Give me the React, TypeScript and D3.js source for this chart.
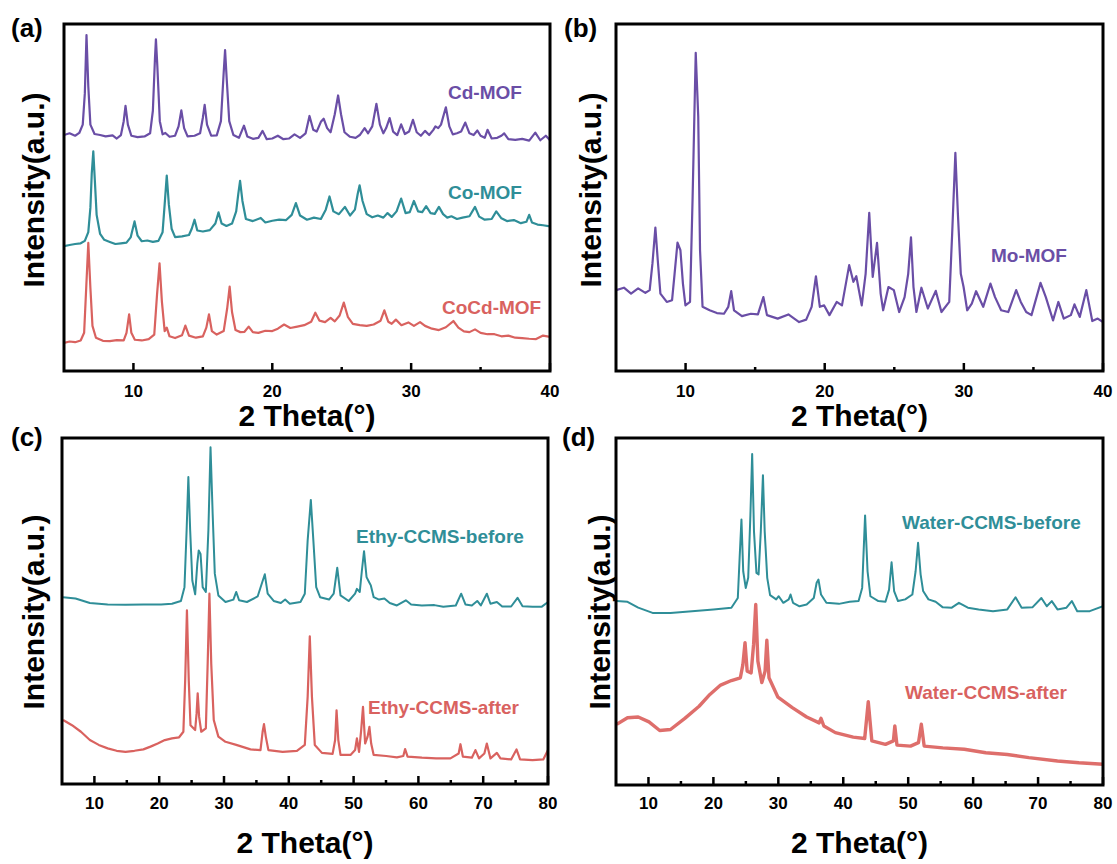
import React from "react";
import * as d3 from "d3";

type Pt = [number, number];

// ---------- tick values ----------
const ticksShort = [10, 20, 30, 40];
const minorShort = [15, 25, 35];
const ticksLong = [10, 20, 30, 40, 50, 60, 70, 80];
const minorLong = [15, 25, 35, 45, 55, 65, 75];

// ---------- panel (a) ----------
const cdMOF: Pt[] = [
  [5.0, 68.0], [5.4, 68.5], [5.8, 67.8], [6.1, 68.6], [6.35, 71], [6.5, 80], [6.62, 96.8], [6.75, 82], [6.9, 71], [7.2, 68.3],
  [7.6, 68.0], [8.0, 67.6], [8.5, 67.9], [8.8, 67.0], [9.1, 68], [9.3, 72], [9.43, 76.4], [9.6, 71], [9.85, 67.8], [10.3, 67.4],
  [10.8, 67.6], [11.2, 68.5], [11.4, 75], [11.55, 90], [11.62, 95.6], [11.72, 88], [11.9, 72], [12.1, 68.2], [12.3, 68.6], [12.6, 67.5],
  [13.0, 67.8], [13.25, 70.5], [13.45, 75.1], [13.65, 70], [13.9, 67.6], [14.4, 67.8], [14.8, 68.5], [15.0, 73], [15.13, 76.7], [15.3, 71],
  [15.6, 67.8], [16.0, 67.9], [16.3, 72], [16.5, 86], [16.6, 92.5], [16.72, 84], [16.9, 72], [17.2, 68], [17.6, 67.2], [17.96, 70.7],
  [18.2, 67.6], [18.6, 66.9], [19.0, 67.2], [19.3, 69.2], [19.6, 66.8], [20.0, 67.0], [20.4, 67.8], [20.8, 66.8], [21.2, 67], [21.6, 68.2],
  [22.0, 67.2], [22.4, 68.5], [22.68, 73.5], [22.95, 69.5], [23.2, 69], [23.5, 71.8], [23.7, 72.7], [23.95, 70], [24.2, 68.8], [24.5, 74],
  [24.74, 79.4], [24.95, 74], [25.2, 68.8], [25.6, 67.5], [26.0, 67.2], [26.3, 68], [26.65, 70], [26.9, 68.5], [27.2, 70.5], [27.5, 77],
  [27.75, 71], [28.0, 68.5], [28.2, 70], [28.45, 72.9], [28.7, 69], [29.0, 68], [29.28, 71.1], [29.55, 68.3], [29.85, 69], [30.13, 72.4],
  [30.4, 68.8], [30.7, 67.8], [31.0, 69.2], [31.3, 68], [31.6, 69.5], [31.75, 70.5], [31.95, 70], [32.15, 71], [32.5, 76], [32.75, 70.5],
  [33.0, 68.2], [33.3, 68.5], [33.6, 69], [33.9, 71.6], [34.2, 68.5], [34.5, 68], [34.77, 69.3], [35.0, 67.8], [35.3, 67.2], [35.5, 69.5],
  [35.8, 67], [36.2, 67.2], [36.5, 67.8], [36.7, 68.5], [37.0, 66.8], [37.5, 66.6], [38.0, 66.9], [38.5, 66.4], [38.94, 68.7], [39.3, 66.5],
  [39.7, 67.8], [40.0, 66.5],
];

const coMOF: Pt[] = [
  [5.0, 36.0], [5.4, 36.3], [5.8, 36.6], [6.2, 36.8], [6.5, 37.5], [6.75, 40], [6.9, 47], [7.0, 57], [7.11, 63.3], [7.22, 55],
  [7.35, 45], [7.6, 39.5], [7.9, 37.8], [8.3, 37.2], [8.7, 36.6], [9.1, 36.8], [9.5, 37.0], [9.8, 38.5], [10.08, 43.1], [10.3, 39],
  [10.6, 37.4], [11.0, 37.6], [11.4, 37.2], [11.8, 37.5], [12.1, 40], [12.25, 48], [12.4, 56.3], [12.55, 48], [12.75, 41], [13.0, 38.6],
  [13.5, 38.8], [14.0, 39.2], [14.2, 41], [14.4, 43.6], [14.6, 40.5], [15.0, 40.2], [15.5, 40.6], [15.9, 42.5], [16.13, 45.7], [16.35, 42.5],
  [16.7, 41.8], [17.1, 42.5], [17.4, 46], [17.55, 51], [17.68, 54.8], [17.85, 49], [18.1, 43.8], [18.6, 43.2], [19.17, 44.1], [19.5, 42.8],
  [20.0, 43.3], [20.5, 43.6], [21.0, 43.5], [21.4, 45], [21.7, 48.4], [22.0, 44.8], [22.5, 43.6], [23.0, 44.2], [23.5, 43.8], [23.85, 46.5],
  [24.12, 50.3], [24.4, 46], [24.8, 45.2], [25.23, 47.3], [25.6, 44.8], [25.95, 46.5], [26.15, 51], [26.29, 53.5], [26.5, 49], [26.8, 45.2],
  [27.2, 44.3], [27.6, 44.8], [28.0, 44.2], [28.3, 45.5], [28.6, 44.4], [28.95, 46], [29.28, 49.7], [29.6, 45.5], [29.9, 45.8], [30.2, 49],
  [30.5, 46], [30.8, 45.8], [31.08, 47.5], [31.4, 45.5], [31.7, 45.3], [32.0, 47.3], [32.3, 45.2], [32.6, 44.2], [32.9, 44.6], [33.3, 43.8],
  [33.7, 44.2], [34.2, 44.6], [34.6, 47.3], [34.9, 44.5], [35.3, 43.6], [35.8, 43.8], [36.13, 46], [36.5, 44], [36.9, 43.2], [37.4, 43.5],
  [37.9, 42.6], [38.3, 43], [38.5, 45], [38.7, 42.8], [39.1, 42.2], [39.5, 42.0], [40.0, 41.7],
];

const coCdMOF: Pt[] = [
  [5.0, 8.1], [5.4, 8.5], [5.8, 8.3], [6.2, 8.8], [6.45, 11], [6.6, 24], [6.75, 36.9], [6.9, 24], [7.05, 13], [7.3, 9.6],
  [7.8, 8.7], [8.3, 8.6], [8.8, 8.9], [9.3, 8.8], [9.5, 11], [9.69, 16.3], [9.85, 11], [10.1, 9], [10.6, 8.8], [11.1, 9.2],
  [11.5, 10.5], [11.7, 22], [11.88, 31], [12.05, 20], [12.25, 11.5], [12.4, 12.5], [12.6, 10], [13.0, 9.5], [13.5, 10.3], [13.74, 13.1],
  [14.0, 10.2], [14.5, 9.6], [15.0, 10], [15.25, 12.5], [15.44, 16.3], [15.65, 11.5], [16.0, 10.5], [16.5, 11.5], [16.75, 18], [16.93, 24.3],
  [17.1, 17], [17.35, 11.8], [17.7, 11.2], [18.0, 11.3], [18.3, 12.8], [18.6, 11.2], [19.0, 11.0], [19.5, 11.6], [20.0, 11.5], [20.4, 12.2],
  [20.85, 13.4], [21.3, 12.4], [21.8, 12.8], [22.3, 13.2], [22.8, 14.2], [23.1, 16.8], [23.4, 14.5], [23.8, 14.1], [24.2, 15.3], [24.5, 14.3],
  [24.85, 16], [25.15, 19.7], [25.45, 15.5], [25.8, 13.6], [26.3, 13.2], [26.8, 13.0], [27.3, 13.4], [27.8, 14.5], [28.07, 17.5], [28.35, 14.2],
  [28.6, 13.6], [28.9, 14.8], [29.3, 13.2], [29.8, 14], [30.2, 13.0], [30.64, 14.1], [31.0, 13.0], [31.5, 12.2], [32.0, 11.8], [32.5, 12.6],
  [33.04, 14.4], [33.4, 12.5], [33.8, 11.4], [34.2, 11.2], [34.6, 12], [35.0, 11], [35.5, 10.6], [36.0, 10.6], [36.5, 10], [37.0, 10.2],
  [37.5, 9.6], [38.0, 9.5], [38.5, 9.3], [39.0, 9.2], [39.5, 10.2], [40.0, 9.8],
];

// ---------- panel (b) ----------
const moMOF: Pt[] = [
  [5.0, 23.3], [5.57, 24.0], [6.08, 22.3], [6.59, 23.8], [7.11, 22.5], [7.42, 23.3], [7.62, 31], [7.83, 41.3], [8.0, 32], [8.19, 22.3],
  [8.65, 19.9], [9.03, 20.4], [9.21, 28], [9.42, 37], [9.63, 34.8], [9.81, 25.2], [9.99, 18.9], [10.32, 19.9], [10.5, 49], [10.73, 91.7],
  [10.91, 73.3], [11.04, 34.8], [11.22, 18.5], [11.73, 17.5], [12.25, 16.7], [12.76, 16.5], [13.07, 18.5], [13.28, 23], [13.48, 17.5], [14.05, 15.8],
  [14.69, 16.5], [15.2, 16.3], [15.59, 21.3], [15.85, 16.1], [16.62, 15.1], [17.39, 16.3], [18.16, 14.1], [18.67, 14.8], [19.06, 18.5], [19.37, 27.3],
  [19.65, 18.5], [19.96, 18.9], [20.34, 16.1], [20.86, 19.9], [21.24, 18.9], [21.76, 30.5], [22.06, 25.7], [22.27, 27.3], [22.66, 18.9], [22.94, 28],
  [23.2, 45.6], [23.45, 27.1], [23.76, 36.9], [24.02, 22.3], [24.2, 17.5], [24.58, 24.2], [24.97, 23.3], [25.35, 17], [25.74, 21.3], [26.0, 28],
  [26.2, 38.5], [26.38, 24.2], [26.59, 17], [26.95, 24], [27.41, 18], [27.98, 23.1], [28.39, 17], [28.95, 19.9], [29.16, 39.6], [29.39, 62.9],
  [29.57, 45.4], [29.78, 28], [29.98, 24.2], [30.24, 17.5], [30.57, 19.4], [30.88, 23], [31.39, 18.5], [31.91, 25.2], [32.24, 21.3], [32.68, 17.5],
  [33.19, 17], [33.76, 23.3], [34.09, 19.9], [34.48, 17], [34.86, 16.1], [35.51, 25.4], [35.89, 21.3], [36.41, 14.6], [36.79, 19.9], [37.18, 15.1],
  [37.69, 16.1], [37.95, 19.2], [38.33, 15.6], [38.8, 23.3], [39.23, 14.4], [39.62, 15.1], [40.0, 14.1],
];

// ---------- panel (c) ----------
const ethyBefore: Pt[] = [
  [5.17, 54.0], [7.09, 53.6], [9.3, 52.3], [12.05, 51.9], [14.8, 51.8], [17.56, 51.9], [20.3, 51.9], [21.97, 52.1], [23.35, 52.9], [23.9, 56.9],
  [24.23, 73.3], [24.5, 88.7], [24.78, 73.3], [25.11, 58.8], [25.55, 54.8], [25.88, 63.7], [26.1, 67.5], [26.38, 66.5], [26.71, 56.9], [27.2, 55.5],
  [27.59, 73.3], [27.92, 97.3], [28.25, 78.1], [28.58, 60.8], [29.13, 54.5], [30.23, 52.6], [31.45, 53.3], [31.89, 55.5], [32.33, 53.1], [33.54, 52.6],
  [35.19, 54.2], [35.91, 58.4], [36.3, 60.6], [36.74, 55], [37.67, 52.9], [38.77, 52.3], [39.44, 53.3], [40.15, 52.1], [41.8, 52.6], [42.47, 55],
  [42.91, 70.4], [43.4, 82.1], [43.79, 70.4], [44.23, 56.9], [44.83, 54], [46.21, 53.3], [46.93, 55], [47.48, 62.5], [47.98, 54.5], [49.24, 52.9],
  [50.23, 55], [50.51, 56.4], [50.95, 55.5], [51.28, 61.7], [51.61, 67.3], [52.0, 59.8], [52.38, 58.4], [52.66, 57.4], [53.1, 54], [53.93, 53.3],
  [54.75, 53.6], [55.58, 52.3], [56.68, 51.6], [58.06, 53.1], [58.88, 51.9], [60.54, 51.6], [62.47, 51.7], [63.84, 51.2], [65.77, 51.6], [66.6, 55],
  [67.26, 51.9], [68.25, 51.6], [69.08, 52.9], [69.63, 51.6], [70.18, 53.6], [70.56, 55], [71.12, 52.1], [72.11, 52.6], [72.93, 51.3], [74.31, 51.3],
  [75.3, 53.8], [76.07, 51.4], [77.62, 51.2], [79.0, 51.2], [80.0, 52.6],
];

const ethyAfter: Pt[] = [
  [5.17, 18.5], [6.54, 17], [7.92, 15.1], [9.3, 12.7], [10.67, 11.3], [12.05, 10.3], [13.43, 9.6], [14.8, 9.3], [16.18, 9.6], [17.56, 10],
  [18.66, 10.8], [19.77, 11.7], [20.87, 12.7], [21.97, 13.2], [23.07, 13.5], [23.73, 15.1], [24.01, 30], [24.28, 50.2], [24.56, 30], [24.83, 17],
  [25.55, 15.6], [25.77, 20.4], [25.94, 26.2], [26.16, 19.4], [26.49, 15.1], [27.2, 16.1], [27.48, 34.8], [27.75, 55], [28.03, 34.8], [28.42, 18.5],
  [29.13, 13.7], [30.23, 12.2], [31.89, 11.3], [34.09, 10], [35.63, 9.8], [35.96, 15.1], [36.17, 17.3], [36.45, 13.7], [36.85, 9.8], [39.05, 9.3],
  [41.25, 9.6], [42.47, 11.3], [42.91, 25.2], [43.24, 42.7], [43.57, 25.2], [44.01, 11.3], [45.11, 9], [46.76, 8.7], [47.15, 12.7], [47.37, 21.3],
  [47.64, 12.7], [47.98, 8.4], [49.52, 8.4], [50.23, 9.8], [50.51, 13.2], [50.84, 9.3], [51.17, 15.6], [51.45, 22.3], [51.78, 11.7], [52.16, 13.7],
  [52.44, 16.5], [52.71, 11.7], [53.1, 8.4], [55.03, 8.1], [56.68, 7.7], [57.67, 8.1], [57.95, 10.1], [58.33, 7.9], [60.54, 7.6], [62.74, 7.4],
  [64.94, 7.4], [66.21, 8.8], [66.49, 11.5], [66.87, 7.9], [68.25, 7.6], [68.8, 9.8], [69.35, 7.4], [70.18, 8.8], [70.56, 11.7], [71.12, 7.4],
  [72.11, 9], [72.66, 7.4], [74.31, 7.1], [75.14, 10], [75.69, 7.1], [77.62, 6.9], [79.27, 7.1], [80.0, 9.8],
];

// ---------- panel (d) ----------
const waterBefore: Pt[] = [
  [5.11, 53], [6.77, 52.8], [8.42, 51.1], [10.63, 49.6], [13.39, 49.6], [16.7, 50.1], [20.01, 50.6], [22.77, 51.1], [23.76, 53.9], [24.04, 65.5],
  [24.32, 76.5], [24.59, 61.6], [24.98, 56.8], [25.36, 59.7], [25.7, 77.9], [25.97, 95.4], [26.25, 73.1], [26.63, 61.1], [26.96, 60.7], [27.3, 73.1],
  [27.63, 89.3], [27.9, 73.1], [28.29, 59.7], [28.73, 54.7], [29.67, 53.5], [30.06, 54.4], [30.77, 52.5], [31.6, 53.5], [31.88, 54.9], [32.26, 52.5],
  [33.26, 51.5], [34.36, 52], [35.46, 53.9], [35.9, 58.3], [36.18, 59.2], [36.57, 54.9], [37.4, 52.5], [39.33, 52.2], [40.98, 52.8], [42.36, 53],
  [42.91, 56.8], [43.36, 77.7], [43.74, 61.6], [44.18, 54.4], [45.4, 53], [46.5, 52.8], [47.05, 56.3], [47.44, 64.2], [47.83, 55.9], [48.43, 53],
  [49.54, 53.5], [50.64, 54.9], [51.14, 61.6], [51.52, 69.8], [51.91, 60.7], [52.3, 55.9], [53.12, 53.5], [54.23, 52.8], [55.33, 51.2], [56.71, 51.1],
  [57.81, 52.5], [59.19, 51.1], [60.85, 50.6], [63.06, 50.1], [65.26, 50.6], [66.53, 54.1], [67.47, 51.1], [69.13, 51.2], [70.51, 53.9], [71.34, 51.5],
  [72.11, 53], [72.99, 50.6], [74.37, 51.1], [75.2, 53], [76.03, 50.1], [77.96, 50.1], [80.0, 51.5],
];

const waterAfter: Pt[] = [
  [5.11, 17.5], [6.77, 19.4], [8.42, 19.6], [10.08, 18.2], [11.73, 15.7], [13.39, 16], [15.6, 19.2], [17.8, 22.7], [19.46, 26.1], [21.11, 28.8],
  [22.77, 30.1], [24.15, 30.9], [24.54, 34.7], [24.87, 41], [25.2, 32.8], [25.81, 32.3], [26.19, 40.5], [26.52, 52], [26.85, 35.7], [27.46, 29.5],
  [27.96, 32.8], [28.23, 41.7], [28.56, 30.9], [29.94, 25.3], [32.15, 22.3], [34.36, 19.6], [36.29, 17.9], [36.57, 19.2], [37.01, 17], [38.78, 15.1],
  [41.53, 13.8], [43.3, 13.4], [43.85, 24], [44.4, 12.7], [46.5, 11.7], [47.72, 12.7], [47.94, 17], [48.27, 11.5], [50.36, 11.2], [51.58, 12.2],
  [52.02, 17.5], [52.46, 11.2], [55.33, 10.7], [58.64, 10.3], [61.95, 9.3], [65.26, 8.8], [68.58, 7.9], [72.99, 6.9], [76.3, 6.4], [80.0, 6],
];

// ---------- colours ----------
const PURPLE = "#6a4ea6";
const TEAL = "#2f8e98";
const RED = "#d9625f";
const RED_LIGHT = "#de6e6b";

type Series = { data: Pt[]; color: string; width: number };
type Label = { text: string; x: number; y: number; color: string };
type Panel = {
  id: string;
  left: number; right: number; top: number; bottom: number;
  domain: [number, number];
  ticks: number[]; minor: number[];
  labelY: number; titleY: number;
  yTitleX: number; yTitleY: number;
  tag: string; tagX: number; tagY: number;
  series: Series[]; labels: Label[];
};

const panels: Panel[] = [
  {
    id: "a", left: 64, right: 550, top: 24, bottom: 371, domain: [5, 40],
    ticks: ticksShort, minor: minorShort, labelY: 397, titleY: 426,
    yTitleX: 33, yTitleY: 190, tag: "(a)", tagX: 11, tagY: 37,
    series: [
      { data: coCdMOF, color: RED, width: 2.2 },
      { data: coMOF, color: TEAL, width: 2.2 },
      { data: cdMOF, color: PURPLE, width: 2.2 },
    ],
    labels: [
      { text: "Cd-MOF", x: 448, y: 99, color: PURPLE },
      { text: "Co-MOF", x: 448, y: 199, color: TEAL },
      { text: "CoCd-MOF", x: 442, y: 314, color: RED },
    ],
  },
  {
    id: "b", left: 616, right: 1103, top: 24, bottom: 371, domain: [5, 40],
    ticks: ticksShort, minor: minorShort, labelY: 397, titleY: 426,
    yTitleX: 590, yTitleY: 190, tag: "(b)", tagX: 564, tagY: 37,
    series: [{ data: moMOF, color: PURPLE, width: 2.2 }],
    labels: [{ text: "Mo-MOF", x: 991, y: 262, color: PURPLE }],
  },
  {
    id: "c", left: 62, right: 548, top: 438, bottom: 784, domain: [5, 80],
    ticks: ticksLong, minor: minorLong, labelY: 809, titleY: 853,
    yTitleX: 33, yTitleY: 612, tag: "(c)", tagX: 11, tagY: 446,
    series: [
      { data: ethyAfter, color: RED, width: 2.2 },
      { data: ethyBefore, color: TEAL, width: 2 },
    ],
    labels: [
      { text: "Ethy-CCMS-before", x: 356, y: 543, color: TEAL },
      { text: "Ethy-CCMS-after", x: 368, y: 714, color: RED },
    ],
  },
  {
    id: "d", left: 616, right: 1103, top: 438, bottom: 785, domain: [5, 80],
    ticks: ticksLong, minor: minorLong, labelY: 809, titleY: 853,
    yTitleX: 599, yTitleY: 612, tag: "(d)", tagX: 562, tagY: 446,
    series: [
      { data: waterAfter, color: RED_LIGHT, width: 3.4 },
      { data: waterBefore, color: TEAL, width: 2 },
    ],
    labels: [
      { text: "Water-CCMS-before", x: 902, y: 529, color: TEAL },
      { text: "Water-CCMS-after", x: 905, y: 699, color: RED },
    ],
  },
];

function PanelView({ p }: { p: Panel }) {
  const x = d3.scaleLinear().domain(p.domain).range([p.left, p.right]);
  const y = d3.scaleLinear().domain([0, 100]).range([p.bottom, p.top]);
  const line = d3
    .line<Pt>()
    .x((d) => x(d[0]))
    .y((d) => y(d[1]));
  const cx = (p.left + p.right) / 2;
  return (
    <g>
      <defs>
        <clipPath id={`clip-${p.id}`}>
          <rect x={p.left} y={p.top} width={p.right - p.left} height={p.bottom - p.top} />
        </clipPath>
      </defs>
      <g clipPath={`url(#clip-${p.id})`}>
        {p.series.map((s, i) => (
          <path
            key={i}
            d={line(s.data) || ""}
            fill="none"
            stroke={s.color}
            strokeWidth={s.width}
            strokeLinejoin="round"
          />
        ))}
      </g>
      {p.labels.map((l, i) => (
        <text key={i} x={l.x} y={l.y} fill={l.color} fontSize={19}>
          {l.text}
        </text>
      ))}
      {p.ticks.map((t) => (
        <line key={`M${t}`} x1={x(t)} x2={x(t)} y1={p.bottom} y2={p.bottom - 8} stroke="#000" strokeWidth={2.5} />
      ))}
      {p.minor.map((t) => (
        <line key={`m${t}`} x1={x(t)} x2={x(t)} y1={p.bottom} y2={p.bottom - 4} stroke="#000" strokeWidth={2.5} />
      ))}
      <rect
        x={p.left}
        y={p.top}
        width={p.right - p.left}
        height={p.bottom - p.top}
        fill="none"
        stroke="#000"
        strokeWidth={3}
      />
      {p.ticks.map((t) => (
        <text key={`l${t}`} x={x(t)} y={p.labelY} textAnchor="middle" fontSize={17} fill="#000">
          {t}
        </text>
      ))}
      <text x={cx} y={p.titleY} textAnchor="middle" fontSize={30} fill="#000">
        2 Theta(°)
      </text>
      <text
        transform={`translate(${p.yTitleX},${p.yTitleY}) rotate(-90)`}
        textAnchor="middle"
        dy="0.35em"
        fontSize={30}
        fill="#000"
      >
        Intensity(a.u.)
      </text>
      <text x={p.tagX} y={p.tagY} fontSize={26} fill="#000">
        {p.tag}
      </text>
    </g>
  );
}

export default function App() {
  return (
    <svg
      width={1117}
      height={864}
      style={{ position: "absolute", left: 0, top: 0, background: "#fff" }}
      fontFamily="'Liberation Sans', Arial, Helvetica, sans-serif"
      fontWeight="bold"
    >
      <rect x={0} y={0} width={1117} height={864} fill="#fff" />
      {panels.map((p) => (
        <PanelView key={p.id} p={p} />
      ))}
    </svg>
  );
}
